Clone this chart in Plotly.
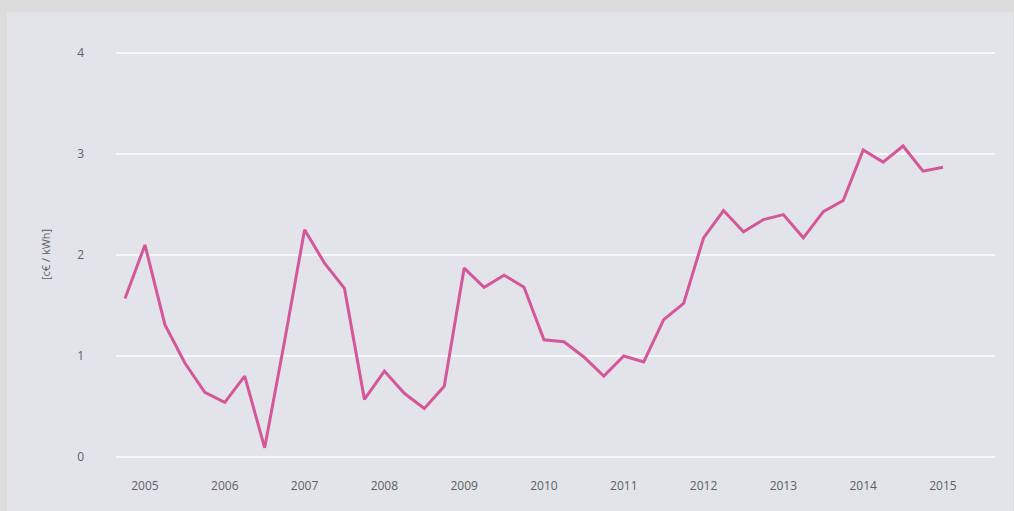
import plotly.graph_objects as go

# Quarterly values, Q4 2004 through Q4 2014 (plotted at year + quarter offset)
start_year = 2004.75
values = [1.57, 2.10, 1.31, 0.93, 0.64, 0.54, 0.80, 0.09, 1.15, 2.25,
          1.92, 1.67, 0.57, 0.85, 0.63, 0.48, 0.70, 1.87, 1.68, 1.80,
          1.68, 1.16, 1.14, 0.99, 0.80, 1.00, 0.94, 1.36, 1.52, 2.17,
          2.44, 2.23, 2.35, 2.40, 2.17, 2.43, 2.54, 3.04, 2.92, 3.08,
          2.83, 2.87]
x_vals = [start_year + 0.25 * i for i in range(len(values))]

year_ticks = list(range(2005, 2016))
year_labels = [str(y) for y in year_ticks]
y_ticks = [0, 1, 2, 3, 4]
y_title = "[c€ / kWh]"

line_color = "#d4579a"
panel_color = "#e2e4e9"
outer_color = "#dcdcdc"
grid_color = "#f6f7f9"
text_color = "#5f5f63"

fig = go.Figure()
fig.add_trace(go.Scatter(
    x=x_vals, y=values, mode="lines",
    line=dict(color=line_color, width=3),
    hoverinfo="skip",
))

W, H = 1014, 511
ml, mr, mt, mb = 116, 19, 43, 44
pw = W - ml - mr
ph = H - mt - mb


def px_to_paper_x(px):
    return (px - ml) / pw


def px_to_paper_y(py):
    return (H - mb - py) / ph


fig.update_layout(
    width=W, height=H,
    margin=dict(l=ml, r=mr, t=mt, b=mb),
    paper_bgcolor=outer_color,
    plot_bgcolor=panel_color,
    showlegend=False,
    font=dict(family="Open Sans", color=text_color, size=12),
    shapes=[dict(
        type="rect", xref="paper", yref="paper", layer="below",
        x0=px_to_paper_x(7), x1=px_to_paper_x(1013),
        y0=px_to_paper_y(512), y1=px_to_paper_y(12),
        fillcolor=panel_color, line=dict(width=0),
    )],
    annotations=[dict(
        text=y_title, xref="paper", yref="paper",
        x=px_to_paper_x(45), y=0.5, textangle=-90,
        showarrow=False, xanchor="center", yanchor="middle",
        font=dict(size=11, color=text_color),
    )],
)

fig.update_xaxes(
    range=[2004.637, 2015.652],
    tickvals=year_ticks, ticktext=year_labels,
    showgrid=False, zeroline=False, showline=False,
    ticks="", ticklabelstandoff=10,
)
fig.update_yaxes(
    range=[-0.1, 4.1],
    tickvals=y_ticks,
    showgrid=True, gridcolor=grid_color, gridwidth=2,
    zeroline=False, showline=False,
    ticks="", ticklabelstandoff=31,
)

fig.write_html("out.html")
